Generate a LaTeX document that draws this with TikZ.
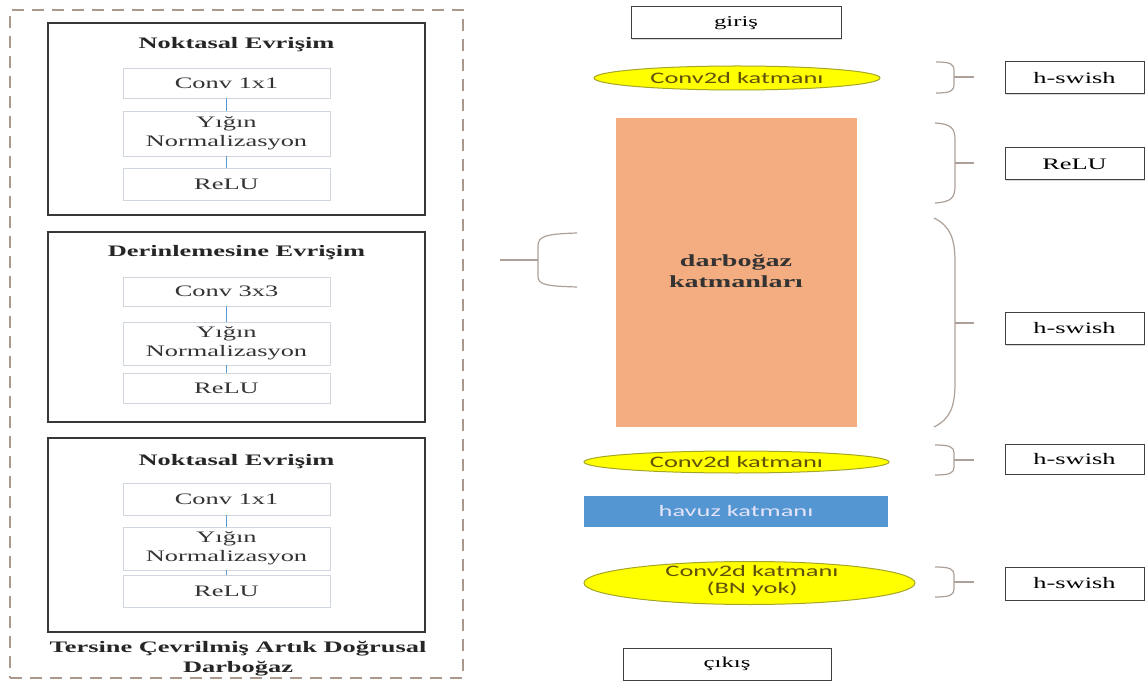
\documentclass[tikz,border=0pt]{standalone}
\usepackage{fontspec}
\usepackage{graphicx}
\setmainfont{Liberation Serif}
\newfontfamily\carl{Carlito}
\usetikzlibrary{shapes.geometric,shadows}

% wide lettering used throughout the figure
\newcommand\wide[1]{\scalebox{1.65}[1]{#1}}
\newcommand\wstack[1]{\scalebox{1.65}[1]{\begin{tabular}{@{}c@{}}#1\end{tabular}}}

\definecolor{dashc}{RGB}{170,152,140}
\definecolor{secc}{RGB}{55,55,55}
\definecolor{innerc}{RGB}{208,214,222}
\definecolor{linkc}{RGB}{91,155,213}
\definecolor{bracec}{RGB}{172,160,152}
\definecolor{bottle}{RGB}{243,173,128}
\definecolor{convy}{RGB}{255,255,0}
\definecolor{convedge}{RGB}{165,165,40}
\definecolor{convtxt}{RGB}{95,80,10}
\definecolor{poolc}{RGB}{84,150,210}
\definecolor{pooltxt}{RGB}{228,228,248}

\tikzset{
  section/.style={draw=secc, line width=1.6pt, fill=white, minimum width=377pt, inner sep=0pt},
  inner/.style={draw=innerc, line width=0.9pt, fill=white, minimum width=207pt, inner sep=0pt,
    font=\fontsize{16}{19}\selectfont, text=black!80},
  ptitle/.style={font=\fontsize{16}{19}\selectfont\bfseries, text=black!85, inner sep=0pt},
  link/.style={draw=linkc, line width=1pt},
  iobox/.style={draw=black!75, line width=1pt, fill=white, inner sep=0pt,
    font=\fontsize{15}{18}\selectfont,
    drop shadow={shadow xshift=1.2pt, shadow yshift=-1.2pt, opacity=0.3}},
  actbox/.style={draw=black!75, line width=1pt, fill=white, inner sep=0pt,
    minimum width=139pt, minimum height=32pt, font=\fontsize{16}{19}\selectfont,
    drop shadow={shadow xshift=1.2pt, shadow yshift=-1.2pt, opacity=0.3}},
  convell/.style={ellipse, fill=convy, draw=convedge, line width=1pt, inner sep=0pt},
  convlbl/.style={font=\carl\fontsize{16}{17}\selectfont, text=convtxt, inner sep=0pt},
  brace/.style={draw=bracec, line width=1.2pt},
}

\begin{document}
\begin{tikzpicture}[x=1pt, y=-1pt]
\useasboundingbox (0,0) rectangle (1148,684);

% ---------- left panel: inverted residual bottleneck ----------
\node[draw=dashc, line width=1.3pt, dash pattern=on 12pt off 8pt,
      minimum width=453pt, minimum height=668pt, inner sep=0pt] (block) at (236.5,344) {};

% pointwise convolution (top)
\node[section, minimum height=192pt] (s1) at (236.5,119) {};
\node[ptitle] (t1) at (236.5,45) {\wide{Noktasal Evrişim}};
\node[inner, minimum height=30pt] (a1) at (226.5,83) {\wide{Conv 1x1}};
\node[inner, minimum height=45pt] (b1) at (226.5,133.5) {\wstack{Yığın\\Normalizasyon}};
\node[inner, minimum height=32pt] (c1) at (226.5,184) {\wide{ReLU}};
\draw[link] (a1) -- (b1);
\draw[link] (b1) -- (c1);

% depthwise convolution
\node[section, minimum height=190pt] (s2) at (236.5,327) {};
\node[ptitle] (t2) at (236.5,253) {\wide{Derinlemesine Evrişim}};
\node[inner, minimum height=29pt] (a2) at (226.5,291.5) {\wide{Conv 3x3}};
\node[inner, minimum height=43pt] (b2) at (226.5,343.5) {\wstack{Yığın\\Normalizasyon}};
\node[inner, minimum height=30pt] (c2) at (226.5,388) {\wide{ReLU}};
\draw[link] (a2) -- (b2);
\draw[link] (b2) -- (c2);

% pointwise convolution (bottom)
\node[section, minimum height=194pt] (s3) at (236.5,535) {};
\node[ptitle] (t3) at (236.5,462) {\wide{Noktasal Evrişim}};
\node[inner, minimum height=32pt] (a3) at (226.5,499) {\wide{Conv 1x1}};
\node[inner, minimum height=43pt] (b3) at (226.5,548.5) {\wstack{Yığın\\Normalizasyon}};
\node[inner, minimum height=32pt] (c3) at (226.5,591) {\wide{ReLU}};
\draw[link] (a3) -- (b3);
\draw[link] (b3) -- (c3);

\node[ptitle, font=\fontsize{16}{20}\selectfont\bfseries] (cap) at (238,658)
  {\wstack{Tersine Çevrilmiş Artık Doğrusal\\Darboğaz}};

% ---------- right panel: network stack ----------
\node[iobox, minimum width=210pt, minimum height=32pt] (in) at (736,23) {\wide{giriş}};

\node[convell, minimum width=286pt, minimum height=24pt] (cv1) at (737,78) {};
\node[convlbl] (cv1t) at (cv1) {\wide{Conv2d katmanı}};

\node[fill=bottle, minimum width=241pt, minimum height=309pt, inner sep=0pt] (bn) at (736.5,272.5) {};
\node[font=\fontsize{17}{21}\selectfont\bfseries, text=black!80, inner sep=0pt] (bnt) at (736,273)
  {\wstack{darboğaz\\katmanları}};

\node[convell, minimum width=305pt, minimum height=22pt] (cv2) at (736.5,462) {};
\node[convlbl] (cv2t) at (cv2) {\wide{Conv2d katmanı}};

\node[fill=poolc, minimum width=304pt, minimum height=31pt, inner sep=0pt] (pool) at (736,511.5) {};
\node[font=\carl\fontsize{16}{19}\selectfont, text=pooltxt, inner sep=0pt] (poolt) at (pool) {\wide{havuz katmanı}};

\node[convell, minimum width=331pt, minimum height=43pt] (cv3) at (749.5,583) {};
\node[convlbl, align=center] (cv3t) at (752,582) {\wstack{Conv2d katmanı\\(BN yok)}};

\node[iobox, minimum width=208pt, minimum height=32pt] (out) at (727,664) {\wide{çıkış}};

% activation labels
\node[actbox] (h1) at (1074.5,78) {\wide{h-swish}};
\node[actbox] (h2) at (1074.5,164) {\wide{ReLU}};
\node[actbox] (h3) at (1074.5,328.5) {\wide{h-swish}};
\node[actbox, minimum height=30pt] (h4) at (1074.5,459) {\wide{h-swish}};
\node[actbox, minimum height=33pt] (h5) at (1074.5,583.5) {\wide{h-swish}};

% braces grouping layers to their activations
\draw[brace] (936,62) .. controls (951,62) and (954,64) .. (954,71) -- (954,84)
  .. controls (954,91) and (951,93) .. (936,93);
\draw[brace] (954,77) -- (974,77);

\draw[brace] (935,123) .. controls (951,124) and (955,128) .. (955,140) -- (955,186)
  .. controls (955,198) and (951,202) .. (935,203);
\draw[brace] (955,163) -- (974,163);

\draw[brace] (934,218) .. controls (950,226) and (955,238) .. (955,262) -- (955,383)
  .. controls (955,407) and (950,419) .. (934,427);
\draw[brace] (955,323) -- (974,323);

\draw[brace] (935,445) .. controls (950,445) and (954,447) .. (954,453) -- (954,467)
  .. controls (954,473) and (950,475) .. (935,475);
\draw[brace] (954,460) -- (974,460);

\draw[brace] (935,567) .. controls (950,567) and (954,569) .. (954,575) -- (954,589)
  .. controls (954,595) and (950,597) .. (935,597);
\draw[brace] (954,582) -- (974,582);

% brace pointing from the bottleneck block to the detailed panel
\draw[brace] (577,233) .. controls (546,234) and (538,236) .. (538,246) -- (538,276)
  .. controls (538,285) and (546,286) .. (577,287);
\draw[brace] (500,260) -- (538,260);
\end{tikzpicture}
\end{document}
